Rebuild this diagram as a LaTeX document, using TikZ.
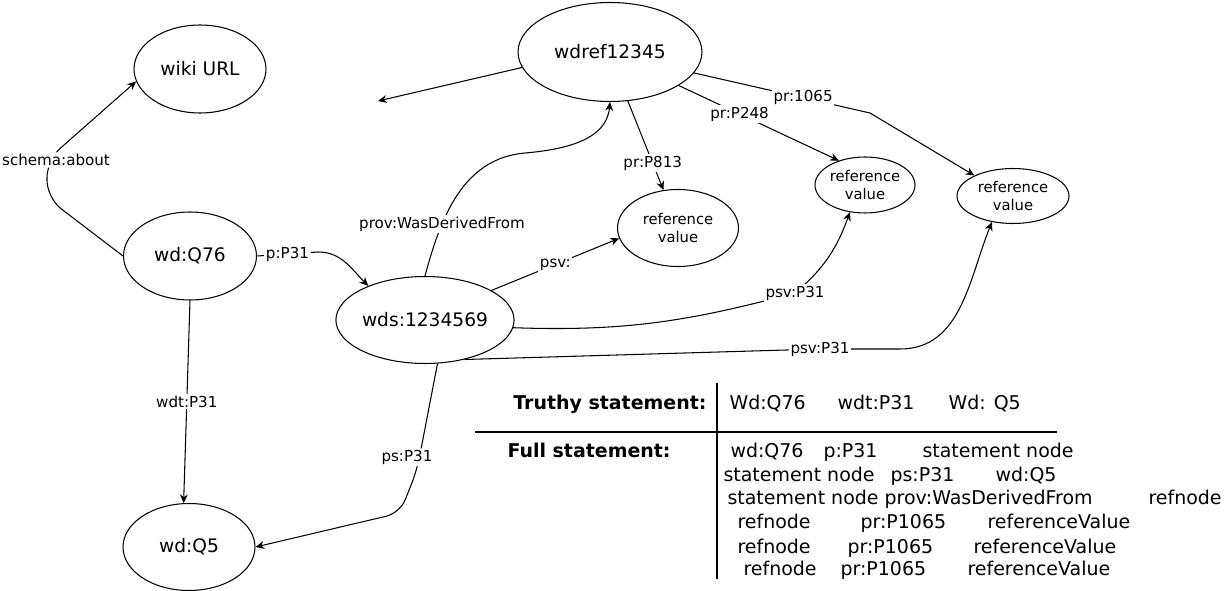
\documentclass[tikz,border=0pt]{standalone}
\usepackage{fontspec}
\setmainfont{DejaVu Sans}
\usetikzlibrary{shapes.geometric,arrows.meta}

\begin{document}
\begin{tikzpicture}[x=0.02cm, y=-0.02cm, line width=0.6pt,
  el/.style={draw, ellipse, inner sep=0pt, font=\fontsize{10.6}{12}\selectfont},
  rv/.style={draw, ellipse, inner sep=0pt, align=center, font=\fontsize{8.4}{9.7}\selectfont},
  lbl/.style={fill=white, inner sep=1pt, font=\fontsize{8.6}{10}\selectfont},
  tx/.style={anchor=base west, inner sep=0pt, font=\fontsize{10.8}{12}\selectfont},
  hd/.style={anchor=base east, inner sep=0pt, font=\fontsize{10.8}{12}\selectfont\bfseries},
  >={Stealth[length=5pt, width=4.5pt]}]
\useasboundingbox (0,0) rectangle (1225,591);
\node[el, minimum width=2.64cm, minimum height=1.76cm] (wiki) at (200,69) {wiki URL};
\node[el, minimum width=3.68cm, minimum height=1.98cm] (wdref) at (610,52) {wdref12345};
\node[el, minimum width=2.66cm, minimum height=1.76cm] (q76) at (190,256) {wd:Q76};
\node[el, minimum width=3.32cm, minimum height=1.74cm] (wds) at (425,320) {wds:1234569};
\node[el, minimum width=2.64cm, minimum height=1.74cm] (q5) at (189,547) {wd:Q5};
\node[rv, minimum width=2.42cm, minimum height=1.54cm] (rv1) at (678,228) {reference\\value};
\node[rv, minimum width=2cm, minimum height=1.12cm] (rv2) at (865,185) {reference\\value};
\node[rv, minimum width=2.24cm, minimum height=1.1cm] (rv3) at (1013,196) {reference\\value};
\coordinate (loose) at (378,101);

\draw[->, rounded corners=10pt] (q76.west) -- (47,198) -- (47,160) node[lbl, xshift=0.18cm]{schema:about} -- (wiki.191);
\draw[->] (q76.east) -- node[lbl]{p:P31} (318,252) to[out=0, in=135] (wds.149);
\draw[->] (q76.south) -- node[lbl]{wdt:P31} (q5.97);
\draw[->, rounded corners=8pt] (wds.-74) -- node[lbl, pos=.88, xshift=-0.25cm]{ps:P31} (417,470) -- (400,513) -- (q5.east);
\draw[->] (wds.north) to[out=75, in=185] node[lbl, pos=.3]{prov:WasDerivedFrom} (525,153) to[out=5, in=-95] (wdref.south);
\draw[->] (wds.24) -- node[lbl]{psv:} (rv1.190);
\draw[->] (wds.-5) to[out=-2, in=195] (795,293) node[lbl]{psv:P31} to[out=40, in=-110] (rv2.241);
\draw[->] (wds.-45) -- (820,349) node[lbl]{psv:P31} -- (900,349) to[out=0, in=-112] (rv3.231);
\draw[->] (wdref.-70) -- node[lbl, pos=.7]{pr:P813} (rv1.111);
\draw[->] (wdref.-26) -- node[lbl, pos=.38]{pr:P248} (rv2.137);
\draw[->] (wdref.-14) -- node[lbl, pos=.62]{pr:1065} (870,113) -- (rv3.152);
\draw[->] (wdref.190) -- (loose);

\draw[line width=1.2pt] (717,383) -- (717,579);
\draw[line width=1.2pt] (475,432) -- (1057,432);
\node[hd] (truthy) at (707,410) {Truthy statement:};
\node[hd, anchor=base west] (full) at (507,458) {Full statement:};
\foreach \x/\y/\t [count=\i] in {729/410/Wd:Q76, 837/410/wdt:P31, 948/410/Wd: Q5,
    730/458/wd:Q76, 823/458/p:P31, 922/458/statement node,
    723/481/statement node, 890/481/ps:P31, 995/481/wd:Q5,
    727/504/statement node prov:WasDerivedFrom, 1148/504/refnode,
    737/528/refnode, 860/528/pr:P1065, 987/528/referenceValue,
    737/553/refnode, 847/553/pr:P1065, 973/553/referenceValue,
    743/575/refnode, 840/575/pr:P1065, 967/575/referenceValue}
  \node[tx] (c\i) at (\x,\y) {\t};
\end{tikzpicture}
\end{document}
